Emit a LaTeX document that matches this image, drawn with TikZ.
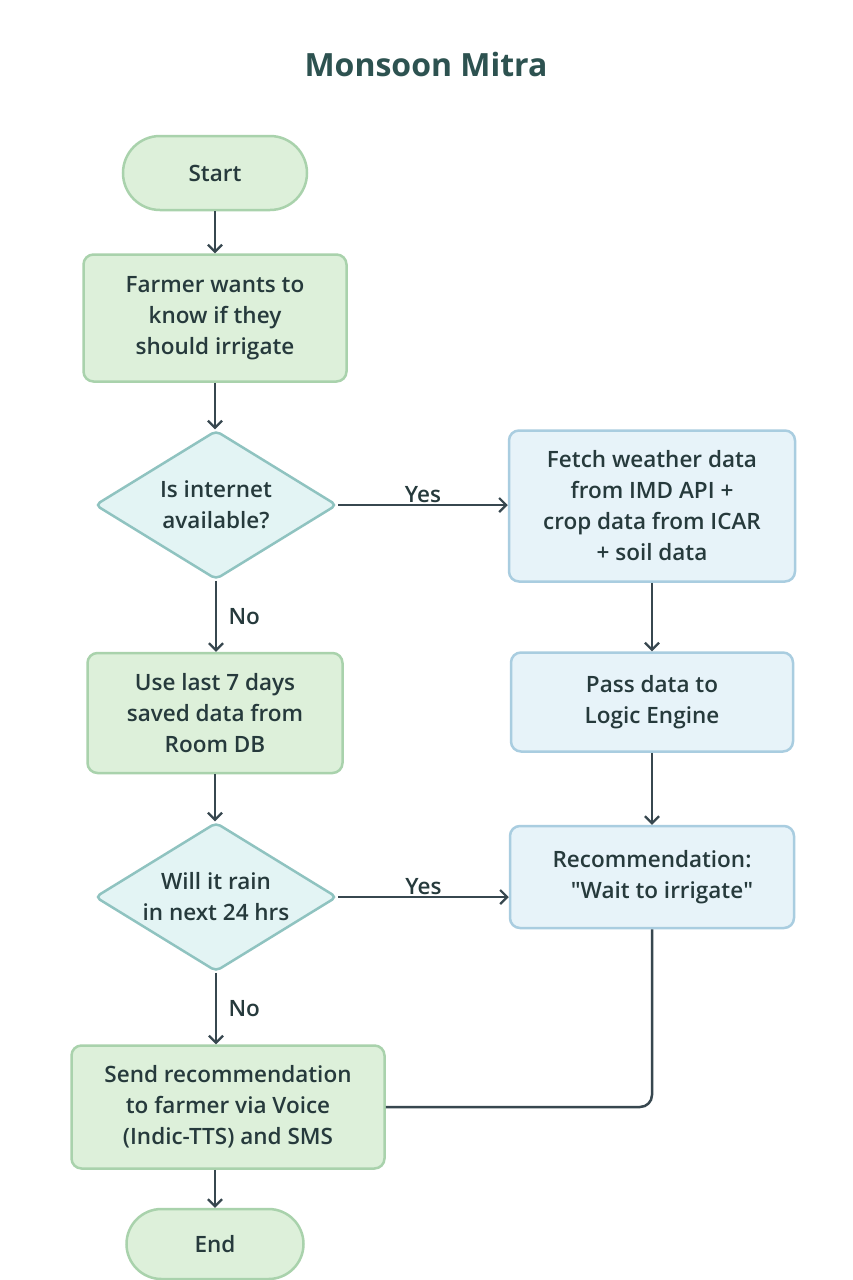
\documentclass[tikz,border=0pt]{standalone}
\usepackage{fontspec}
\IfFontExistsTF{Open Sans SemiBold}{\setmainfont{Open Sans SemiBold}\newfontfamily\nq{Open Sans SemiBold}}{%
  \IfFontExistsTF{Open Sans Semibold}{\setmainfont{Open Sans Semibold}\newfontfamily\nq{Open Sans Semibold}}{%
    \setmainfont{Open Sans}\newfontfamily\nq{Open Sans}}}
\newfontfamily\ttlf{Open Sans}
\usetikzlibrary{shapes.geometric,shapes.misc,arrows.meta}
\definecolor{txt}{HTML}{263A3C}
\definecolor{ttl}{HTML}{2D5250}
\definecolor{gfill}{HTML}{DDF0DA}
\definecolor{gline}{HTML}{A9D2AC}
\definecolor{bfill}{HTML}{E7F3F9}
\definecolor{bline}{HTML}{A9CDE0}
\definecolor{dfill}{HTML}{E3F4F4}
\definecolor{dline}{HTML}{8FC3C0}
\definecolor{arr}{HTML}{37474F}
\tikzset{
  every node/.style={text=txt, font=\fontsize{22.5}{31}\selectfont},
  pill/.style={rounded rectangle, draw=gline, fill=gfill, line width=2.5pt, inner sep=0pt},
  gbox/.style={rectangle, rounded corners=10pt, draw=gline, fill=gfill, line width=2.5pt, align=center, inner sep=0pt},
  bbox/.style={rectangle, rounded corners=10pt, draw=bline, fill=bfill, line width=2.5pt, align=center, inner sep=0pt},
  dec/.style={diamond, rounded corners=5pt, draw=dline, fill=dfill, line width=2.5pt, inner sep=0pt},
  dtext/.style={align=center, inner sep=0pt},
  conn/.style={draw=arr, line width=2.5pt, -{Straight Barb[length=7pt,width=14pt,line width=2.2pt]}},
  plain/.style={draw=arr, line width=2.5pt},
  lbl/.style={text=txt, font=\fontsize{22.5}{26}\selectfont}
}
\begin{document}
\begin{tikzpicture}[x=1pt,y=-1pt]
\useasboundingbox[fill=white] (0,0) rectangle (853,1280);
\node[text=ttl, font=\fontsize{32}{38}\selectfont\ttlf\bfseries] (title) at (426,64) {Monsoon Mitra};
\node[pill, minimum width=184pt, minimum height=74pt] (start) at (215,173) {Start};
\node[gbox, minimum width=263pt, minimum height=127pt] (farmer) at (215,318) {Farmer wants to\\know if they\\should irrigate};
\node[dec, minimum width=242pt, minimum height=149pt] (d1) at (216,505) {};
\node[dtext] (d1t) at (d1.center) {Is internet\\available?};
\node[bbox, minimum width=286pt, minimum height=151pt] (fetch) at (652,506) {Fetch weather data\\from IMD API +\\crop data from ICAR\\+ soil data};
\node[gbox, minimum width=255pt, minimum height=120pt] (use) at (215,713) {Use last 7 days\\saved data from\\Room DB};
\node[bbox, minimum width=282pt, minimum height=99pt] (pass) at (652,702) {Pass data to\\Logic Engine};
\node[dec, minimum width=242pt, minimum height=149pt] (d2) at (216,897) {};
\node[dtext] (d2t) at (d2.center) {Will it rain\\in next 24 hrs};
\node[bbox, minimum width=284pt, minimum height=102pt] (rec) at (652,877) {Recommendation:\\\hspace*{20pt}{\nq"}Wait to irrigate{\nq"}};
\node[gbox, minimum width=313pt, minimum height=123pt] (send) at (228,1107) {Send recommendation\\to farmer via Voice\\(Indic-TTS) and SMS};
\node[pill, minimum width=177pt, minimum height=70pt] (end) at (215,1244) {End};
\draw[conn] (start.south) -- (farmer.north -| start.south);
\draw[conn] (farmer.south) -- (d1.north -| farmer.south);
\draw[conn] (d1.east) -- (fetch.west |- d1.east) node[lbl, midway, above=-2pt] (y1) {Yes};
\draw[conn] (d1.south) -- (use.north -| d1.south) node[lbl, pos=0.5, right=8pt] (n1) {No};
\draw[conn] (fetch.south) -- (pass.north);
\draw[conn] (pass.south) -- (rec.north);
\draw[conn] (use.south) -- (d2.north -| use.south);
\draw[conn] (d2.east) -- (rec.west |- d2.east) node[lbl, midway, above=-2pt] (y2) {Yes};
\draw[conn] (d2.south) -- (send.north -| d2.south) node[lbl, pos=0.5, right=8pt] (n2) {No};
\draw[plain, rounded corners=12pt] (rec.south) |- (send.east);
\draw[conn] (send.south -| end.north) -- (end.north);
\end{tikzpicture}
\end{document}
